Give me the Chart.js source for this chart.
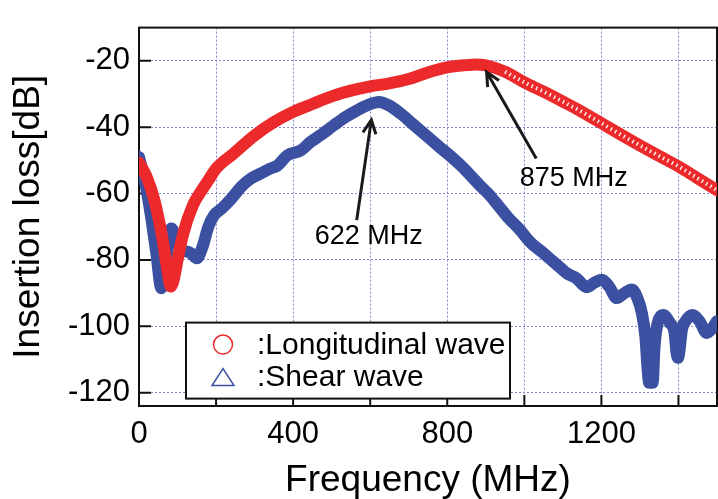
<!DOCTYPE html>
<html>
<head>
<meta charset="utf-8">
<script src="https://cdn.jsdelivr.net/npm/chart.js@4.4.0/dist/chart.umd.min.js"></script>
<style>
  html, body { margin: 0; padding: 0; background: #fff; }
  canvas { display: block; }
</style>
</head>
<body>
<canvas id="chart" width="718" height="499"></canvas>
<script>
// Longitudinal wave (red, circles)
const longFreq = [0, 20, 40, 60, 75, 82, 90, 100, 115, 140, 160, 180, 200, 245, 300, 350, 400, 450, 500, 550, 600, 650, 700, 750, 800, 850, 875, 900, 950, 1000, 1050, 1100, 1150, 1200, 1250, 1300, 1350, 1400, 1450, 1500];
const longLoss = [-50.7, -55, -62, -73, -84, -88, -86, -80, -72, -63.5, -59.5, -56, -52.5, -48, -42.5, -38.5, -35.4, -33, -30.7, -29, -27.7, -26.8, -25.5, -23.5, -22, -21.3, -21.1, -21.4, -23.3, -26.5, -29.3, -32.3, -35.4, -38.8, -42.2, -45.5, -48.7, -51.8, -55.4, -59];

// Shear wave (blue, triangles)
const shearFreq = [0, 15, 30, 45, 58, 70, 84, 95, 110, 125, 135, 150, 165, 180, 195, 215, 240, 265, 290, 315, 340, 360, 385, 420, 445, 470, 505, 535, 565, 595, 622, 650, 680, 710, 746, 780, 800, 833, 860, 885, 910, 937, 960, 989, 1010, 1023, 1045, 1067, 1090, 1110, 1135, 1162, 1180, 1201, 1220, 1240, 1260, 1279, 1295, 1305, 1314, 1320, 1324, 1328, 1333, 1338, 1346, 1360, 1378, 1390, 1395, 1399, 1403, 1409, 1418, 1437, 1455, 1473, 1488, 1500];
const shearLoss = [-49, -56, -66, -78, -88.5, -80, -70.5, -73, -77, -77.5, -78, -79.5, -76, -70, -66.5, -64.5, -61.5, -58, -55.5, -54, -52.5, -51.5, -48.5, -47, -44.5, -42.5, -39.5, -37, -35, -33.3, -32.4, -33.5, -36, -39, -42.6, -46, -47.9, -51.3, -54.5, -57.6, -60.5, -64.3, -67.5, -71, -74, -75.5, -77.5, -79.7, -82, -84, -85.5, -88.2, -87, -86, -88, -91.5, -90, -88.9, -92, -96, -103, -113, -117, -112, -117, -106, -99, -96.6, -99, -102, -108, -109.5, -107, -101, -98.5, -96.6, -98.5, -102, -100.5, -98.4];

const seriesNames = [':Longitudinal wave', ':Shear wave'];

const xTicks = [0, 200, 400, 600, 800, 1000, 1200, 1400];
const xTickLabels = ['0', '', '400', '', '800', '', '1200', ''];
const yTicks = [-20, -40, -60, -80, -100, -120];

// arrow annotations in data units: tip, tail, label centre
const notes = [
  { text: '622 MHz', tip: [603, -37.8], tail: [565, -68], label: [596, -72.9] },
  { text: '875 MHz', tip: [902, -23.4], tail: [1031, -49.4], label: [1128, -55.6] }
];

// where the open circle markers of the red curve show through as white hatching
const hatchFrom = 930;

const RED = '#ec2a2c';
const BLUE = '#3b50a0';
const GRID = '#8686cc';
const FONT = "'Liberation Sans', Arial, sans-serif";

const framePlugin = {
  id: 'frame',
  beforeDatasetsDraw(chart) {
    const { ctx, chartArea: a, scales: { x, y } } = chart;
    ctx.save();
    ctx.strokeStyle = '#111';
    ctx.lineWidth = 2;
    ctx.strokeRect(a.left, a.top, a.right - a.left, a.bottom - a.top);
    ctx.beginPath();
    xTicks.forEach(v => {
      if (v === 0) return;
      const px = x.getPixelForValue(v);
      ctx.moveTo(px, a.bottom);
      ctx.lineTo(px, a.bottom - 11);
    });
    yTicks.forEach(v => {
      const py = y.getPixelForValue(v);
      ctx.moveTo(a.left, py);
      ctx.lineTo(a.left + 12, py);
    });
    ctx.stroke();
    ctx.restore();
  },
  afterDatasetsDraw(chart) {
    const { ctx, chartArea: a, scales: { x, y } } = chart;
    ctx.save();
    // arrows + labels
    ctx.strokeStyle = '#1a1a1a';
    ctx.lineWidth = 3;
    ctx.lineCap = 'butt';
    notes.forEach(n => {
      const tx = x.getPixelForValue(n.tip[0]), ty = y.getPixelForValue(n.tip[1]);
      const sx = x.getPixelForValue(n.tail[0]), sy = y.getPixelForValue(n.tail[1]);
      const ang = Math.atan2(ty - sy, tx - sx);
      ctx.beginPath();
      ctx.moveTo(sx, sy);
      ctx.lineTo(tx, ty);
      ctx.moveTo(tx - 15 * Math.cos(ang - 0.45), ty - 15 * Math.sin(ang - 0.45));
      ctx.lineTo(tx, ty);
      ctx.lineTo(tx - 15 * Math.cos(ang + 0.45), ty - 15 * Math.sin(ang + 0.45));
      ctx.stroke();
      ctx.fillStyle = '#000';
      ctx.font = '27px ' + FONT;
      ctx.textAlign = 'center';
      ctx.textBaseline = 'middle';
      ctx.fillText(n.text, x.getPixelForValue(n.label[0]), y.getPixelForValue(n.label[1]));
    });

    // legend box
    const lx = a.left + 47, ly = a.top + 295, lw = 324, lh = 76;
    ctx.fillStyle = '#fff';
    ctx.fillRect(lx, ly, lw, lh);
    ctx.strokeStyle = '#111';
    ctx.lineWidth = 2;
    ctx.strokeRect(lx, ly, lw, lh);

    const cx = lx + 37;
    ctx.lineWidth = 1.5;
    ctx.strokeStyle = RED;
    ctx.beginPath();
    ctx.arc(cx, ly + 22, 9.5, 0, Math.PI * 2);
    ctx.stroke();
    ctx.strokeStyle = BLUE;
    ctx.beginPath();
    ctx.moveTo(cx, ly + 46);
    ctx.lineTo(cx + 11, ly + 63);
    ctx.lineTo(cx - 11, ly + 63);
    ctx.closePath();
    ctx.stroke();

    ctx.fillStyle = '#000';
    ctx.font = '30px ' + FONT;
    ctx.textAlign = 'left';
    ctx.textBaseline = 'middle';
    ctx.fillText(seriesNames[0], lx + 71, ly + 23);
    ctx.fillText(seriesNames[1], lx + 71, ly + 55);
    ctx.restore();
  }
};

const toPoints = (xs, ys) => xs.map((f, i) => ({ x: f, y: ys[i] }));
const longPoints = toPoints(longFreq, longLoss);

new Chart(document.getElementById('chart'), {
  type: 'line',
  data: {
    datasets: [
      {
        label: 'hatch',
        data: longPoints.filter(p => p.x >= hatchFrom),
        borderColor: 'rgba(255,255,255,0.9)',
        borderWidth: 4,
        borderDash: [1.5, 3.5],
        pointRadius: 0,
        cubicInterpolationMode: 'monotone',
        fill: false
      },
      {
        label: seriesNames[0],
        data: longPoints,
        borderColor: RED,
        borderWidth: 12,
        pointRadius: 0,
        borderCapStyle: 'round',
        borderJoinStyle: 'round',
        cubicInterpolationMode: 'monotone',
        fill: false
      },
      {
        label: seriesNames[1],
        data: toPoints(shearFreq, shearLoss),
        borderColor: BLUE,
        borderWidth: 12,
        pointRadius: 0,
        borderCapStyle: 'round',
        borderJoinStyle: 'round',
        cubicInterpolationMode: 'monotone',
        fill: false
      }
    ]
  },
  options: {
    responsive: false,
    animation: false,
    devicePixelRatio: 1,
    layout: { padding: { top: 12, right: 1, left: 0, bottom: 0 } },
    plugins: {
      legend: { display: false },
      tooltip: { enabled: false },
      title: { display: false }
    },
    scales: {
      x: {
        type: 'linear',
        min: 0,
        max: 1500,
        afterBuildTicks: s => { s.ticks = xTicks.map(v => ({ value: v })); },
        afterFit: s => { s.height = 93; },
        border: { display: false, dash: [2, 2] },
        grid: { color: GRID, lineWidth: 1, drawTicks: false },
        ticks: {
          autoSkip: false,
          maxRotation: 0,
          padding: 10,
          color: '#000',
          font: { family: FONT, size: 31 },
          callback: (v, i) => xTickLabels[i]
        },
        title: {
          display: true,
          text: 'Frequency (MHz)',
          color: '#000',
          font: { family: FONT, size: 37, lineHeight: 1 },
          padding: { top: 0, bottom: 0 }
        }
      },
      y: {
        type: 'linear',
        min: -124,
        max: -10,
        afterBuildTicks: s => { s.ticks = yTicks.map(v => ({ value: v })); },
        afterFit: s => { s.width = 139; },
        border: { display: false, dash: [2, 2] },
        grid: { color: GRID, lineWidth: 1, drawTicks: false },
        ticks: {
          padding: 9,
          color: '#000',
          font: { family: FONT, size: 31 }
        },
        title: {
          display: true,
          text: 'Insertion loss[dB]',
          color: '#000',
          font: { family: FONT, size: 37, lineHeight: 1 },
          padding: { top: 10, bottom: 0 }
        }
      }
    }
  },
  plugins: [framePlugin]
});
</script>
</body>
</html>
